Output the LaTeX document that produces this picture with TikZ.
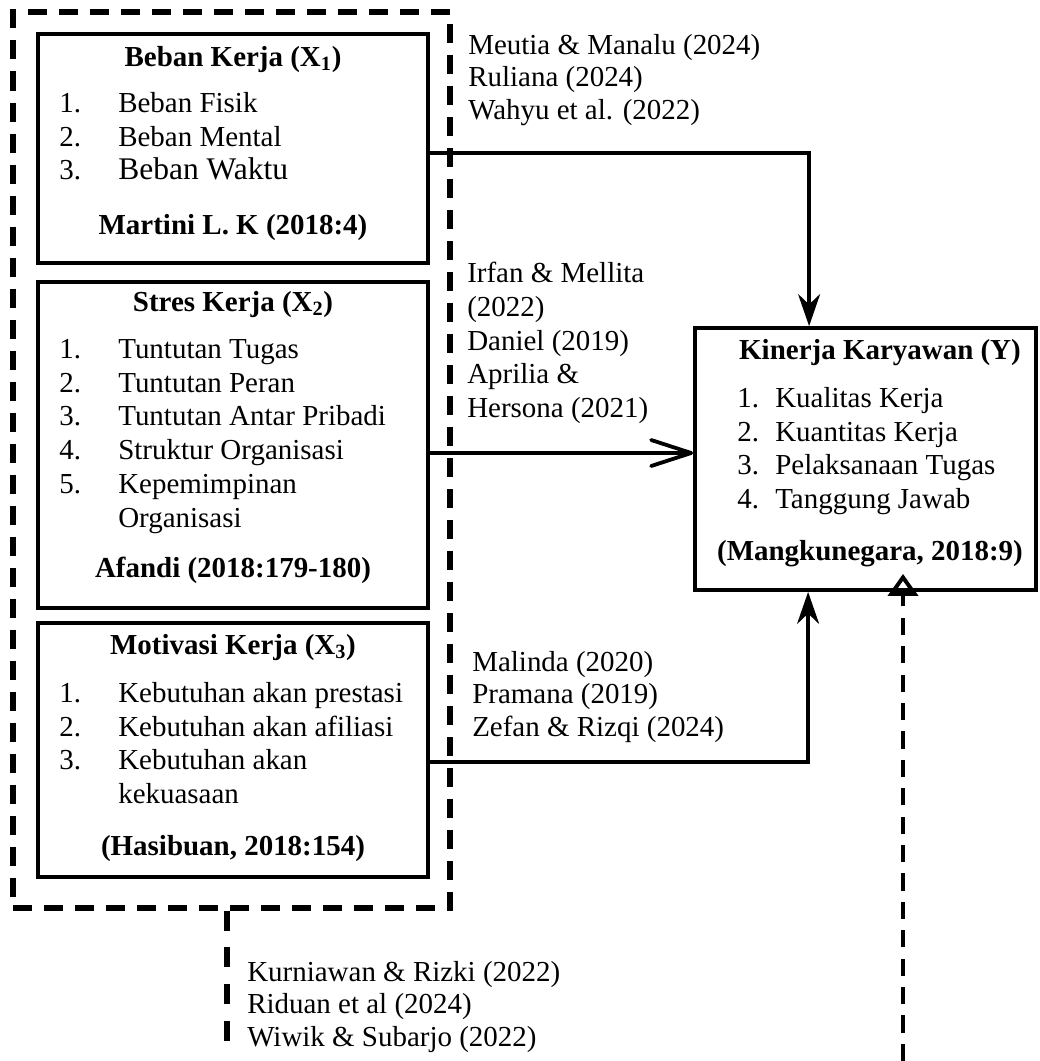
\documentclass[tikz,border=0pt]{standalone}
\usepackage{fontspec}
\setmainfont{Liberation Serif}
\usepackage{tikz}
\usetikzlibrary{arrows.meta, positioning, fit, calc}

\newcommand{\butir}[3][1.475cm]{\makebox[#1][l]{#2}#3}

\begin{document}
\begin{tikzpicture}[
    x=0.025cm, y=-0.025cm,
    kotak/.style={draw, line width=2.7pt, inner sep=0pt},
    bingkai/.style={draw, line width=3.6pt, dash pattern=on 0.475cm off 0.3cm, inner sep=0pt},
    judul/.style={anchor=base, inner sep=0pt, font=\fontsize{20.6}{24}\selectfont\bfseries},
    isi/.style={anchor=north west, inner sep=0pt, align=left, font=\fontsize{20.6}{24}\selectfont},
    acuan/.style={anchor=north west, inner sep=0pt, align=left, font=\fontsize{20.6}{23.1}\selectfont},
    panah/.style={line width=2.7pt, -{Stealth[length=0.8cm, width=0.55cm]}},
    panahbuka/.style={line width=2.7pt, -{Straight Barb[length=1cm, width=0.65cm, round]}},
    panahputus/.style={line width=2.8pt, dash pattern=on 0.43cm off 0.28cm, -{Triangle[open, length=0.55cm, width=0.75cm]}},
    garisputus/.style={line width=3.6pt, dash pattern=on 0.5cm off 0.42cm}
]
\useasboundingbox (0,0) rectangle (1040,1061);
\node[bingkai, fit={(13,12) (450,908)}] (luar) {};

\node[kotak, fit={(38,34) (428,263)}] (beban) {};
\node[judul] (bebanjudul) at (233,66) {Beban Kerja (X\textsubscript{1})};
\node[isi] (bebanisi) at (59,92) {\butir{1.}{Beban Fisik}\\\butir{2.}{Beban Mental}\\\butir{3.}{{\fontsize{22.4}{24}\selectfont Beban Waktu}}};
\node[judul] (bebansumber) at (233,234) {Martini L. K (2018:4)};

\node[kotak, fit={(38,282) (428,608)}] (stres) {};
\node[judul] (stresjudul) at (233,311) {Stres Kerja (X\textsubscript{2})};
\node[isi] (stresisi) at (59,339) {\butir{1.}{Tuntutan Tugas}\\\butir{2.}{Tuntutan Peran}\\\butir{3.}{Tuntutan Antar Pribadi}\\\butir{4.}{Struktur Organisasi}\\\butir{5.}{Kepemimpinan}\\\butir{}{Organisasi}};
\node[judul] (stressumber) at (233,577) {Afandi (2018:179-180)};

\node[kotak, fit={(38,623) (428,877)}] (motivasi) {};
\node[judul] (motivasijudul) at (233,654) {Motivasi Kerja (X\textsubscript{3})};
\node[isi] (motivasiisi) at (59,682) {\butir{1.}{Kebutuhan akan prestasi}\\\butir{2.}{Kebutuhan akan afiliasi}\\\butir{3.}{Kebutuhan akan}\\\butir{}{kekuasaan}};
\node[judul] (motivasisumber) at (233,855) {(Hasibuan, 2018:154)};

\node[kotak, fit={(695,328) (1036,590)}] (kinerja) {};
\node[judul] (kinerjajudul) at (880,359) {Kinerja Karyawan (Y)};
\node[isi] (kinerjaisi) at (737,387) {\butir[0.95cm]{1.}{Kualitas Kerja}\\\butir[0.95cm]{2.}{Kuantitas Kerja}\\\butir[0.95cm]{3.}{Pelaksanaan Tugas}\\\butir[0.95cm]{4.}{Tanggung Jawab}};
\node[judul] (kinerjasumber) at (870,560) {(Mangkunegara, 2018:9)};

\node[acuan] (acuanbeban) at (468,34) {Meutia \& Manalu (2024)\\Ruliana (2024)\\Wahyu et al. (2022)};
\node[acuan, font=\fontsize{20.6}{24}\selectfont] (acuanstres) at (467,262) {Irfan \& Mellita\\(2022)\\Daniel (2019)\\Aprilia \&\\Hersona (2021)};
\node[acuan] (acuanmotivasi) at (472,651) {Malinda (2020)\\Pramana (2019)\\Zefan \& Rizqi (2024)};
\node[acuan] (acuanbersama) at (247,961) {Kurniawan \& Rizki (2022)\\Riduan et al (2024)\\Wiwik \& Subarjo (2022)};

\draw[panah] ($(beban.east)+(0,4.5)$) -| ($(kinerja.north west)+(116,0)$);
\coordinate (s2) at ($(stres.east)+(0,8)$);
\draw[panahbuka] (s2) -- (s2 -| kinerja.west);
\draw[panah] ($(motivasi.east)+(0,12)$) -| ($(kinerja.south west)+(115,0)$);
\coordinate (kaki) at (903,1061);
\draw[panahputus, shorten >=-0.45cm] (kaki) -- (kaki |- kinerja.south);
\coordinate (ujung) at (227,1043);
\draw[garisputus] (ujung |- luar.south) -- (ujung);
\end{tikzpicture}
\end{document}
